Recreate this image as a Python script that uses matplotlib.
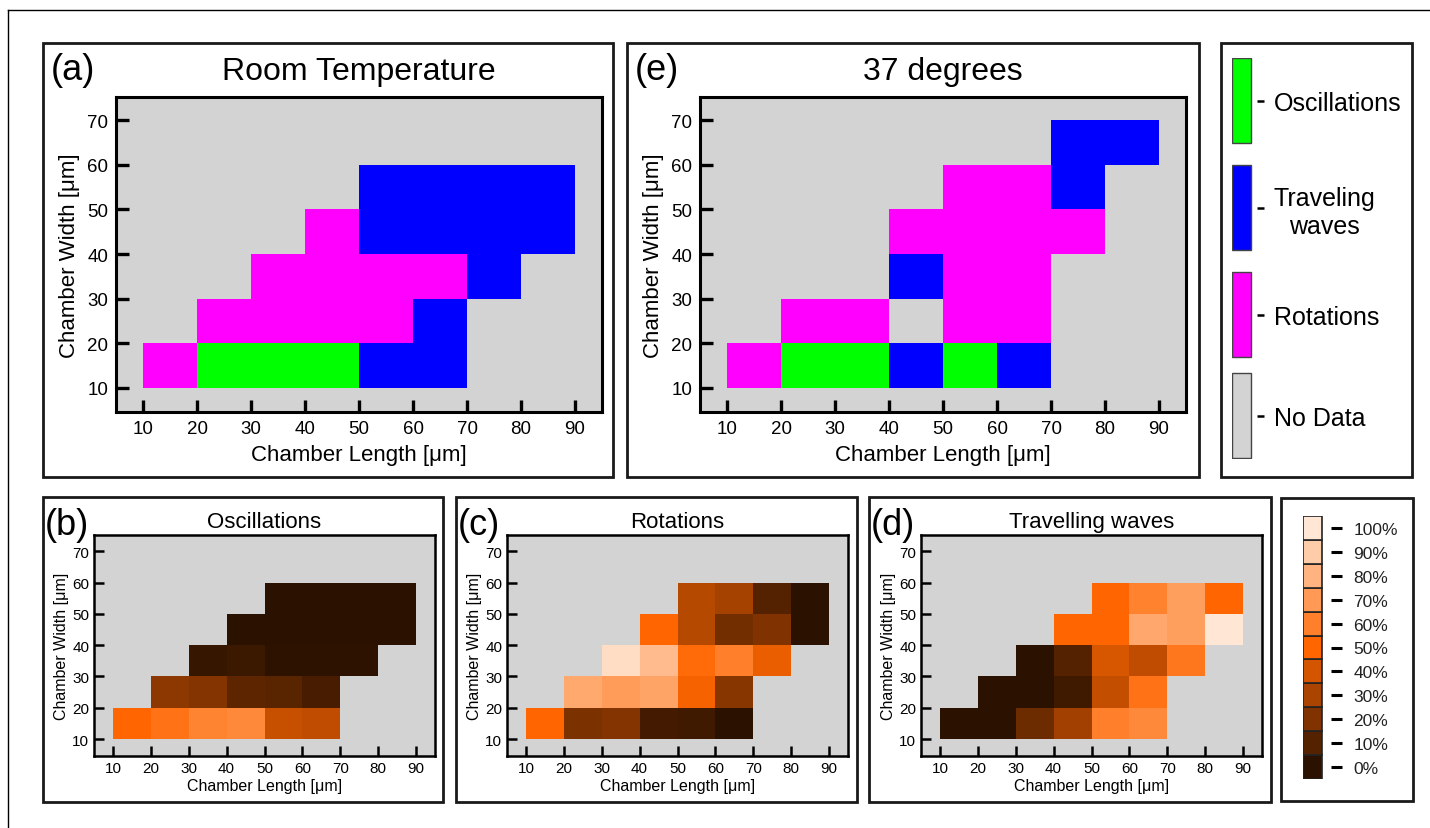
import numpy as np
import matplotlib.pyplot as plt
from matplotlib.colors import ListedColormap, LinearSegmentedColormap
from matplotlib.patches import Rectangle
from matplotlib.lines import Line2D

plt.rcParams['font.family'] = ['Liberation Sans', 'DejaVu Sans']

W, H = 1430, 829          # figure size in pixels

# ---------- data ----------
length_edges = np.arange(10, 100, 10)   # chamber length, cell edges [um]
width_edges = np.arange(10, 80, 10)     # chamber width, cell edges [um]

# dominant state per cell, rows = width 10,20,...,60 ; cols = length 10..80
# O = oscillations, T = traveling waves, R = rotations, . = no data
room_temp = ["ROOOTT..",
             ".RRRRT..",
             "..RRRRT.",
             "...RTTTT",
             "....TTTT",
             "........"]
deg37 = ["ROOTOT..",
         ".RR.RR..",
         "...TRR..",
         "...RRRR.",
         "....RRT.",
         "......TT"]

nan = np.nan
# fraction of each state [%] at room temperature
osc = [[50, 55, 62, 64, 37, 35, nan, nan],
       [nan, 23, 21, 12, 11, 7, nan, nan],
       [nan, nan, 3, 4, 1, 1, 1, nan],
       [nan, nan, nan, 0, 0, 0, 0, 0],
       [nan, nan, nan, nan, 0, 0, 0, 0],
       [nan] * 8]
rot = [[50, 19, 21, 6, 5, 0, nan, nan],
       [nan, 76, 71, 74, 48, 22, nan, nan],
       [nan, nan, 96, 83, 52, 60, 45, nan],
       [nan, nan, nan, 50, 33, 17, 20, 0],
       [nan, nan, nan, nan, 33, 29, 10, 0],
       [nan] * 8]
trav = [[0, 0, 16, 28, 60, 64, nan, nan],
        [nan, 0, 0, 5, 36, 55, nan, nan],
        [nan, nan, 0, 10, 41, 35, 57, nan],
        [nan, nan, nan, 50, 50, 75, 72, 100],
        [nan, nan, nan, nan, 50, 61, 72, 50],
        [nan] * 8]

state_codes = "OTR"
state_colors = ['#00ff00', '#0000ff', '#ff00ff', '#d3d3d3']
state_names = ['Oscillations', 'Traveling\nwaves', 'Rotations', 'No Data']

pct_colors = ['#2b1100', '#552200', '#803300', '#aa4400', '#d45500', '#ff6600',
              '#ff7f2a', '#ff9955', '#ffb380', '#ffccaa', '#ffe6d5']
pct_labels = [f'{p}%' for p in range(0, 101, 10)]

GRAY = '#d3d3d3'
state_cmap = ListedColormap(state_colors[:3])
pct_cmap = LinearSegmentedColormap.from_list('pct', pct_colors)


def rect(l, t, r, b):
    """pixel box -> figure fraction [left, bottom, width, height]"""
    return [l / W, 1 - b / H, (r - l) / W, (b - t) / H]


def frame(fig, l, t, r, b):
    fig.add_artist(Rectangle((l / W, 1 - b / H), (r - l) / W, (b - t) / H,
                             transform=fig.transFigure, fill=False,
                             ec='#1a1a1a', lw=2))


def style(ax, big):
    ax.set_facecolor(GRAY)
    ax.set_xlim(5, 95)
    ax.set_ylim(4.6, 75.2)
    ax.set_xticks(range(10, 100, 10))
    ax.set_yticks(range(10, 80, 10))
    if big:
        ax.tick_params(direction='in', length=9, width=2.4, labelsize=13.5,
                       pad=5.5)
        lab, lw, lp = 16, 2.2, 5
    else:
        ax.tick_params(direction='in', length=7, width=1.8, labelsize=11,
                       pad=3.5)
        lab, lw, lp = 11.5, 1.8, 2
    for s in ax.spines.values():
        s.set_linewidth(lw)
    ax.set_xlabel('Chamber Length [μm]', fontsize=lab, labelpad=lp)
    ax.set_ylabel('Chamber Width [μm]', fontsize=lab, labelpad=lp)


def state_grid(rows):
    arr = np.array([[state_codes.index(c) if c != '.' else nan for c in r]
                    for r in rows], dtype=float)
    return np.ma.masked_invalid(arr)


fig = plt.figure(figsize=(W / 100, H / 100), dpi=100)

# outer border (top and left visible)
fig.add_artist(Line2D([8 / W, 1], [1 - 11 / H] * 2, transform=fig.transFigure,
                      color='k', lw=1))
fig.add_artist(Line2D([8 / W] * 2, [0, 1 - 11 / H], transform=fig.transFigure,
                      color='k', lw=1))

# ---------- big state maps ----------
big = [(room_temp, '(a)', 'Room Temperature', (43, 44, 613, 478),
        (116, 98, 602, 413)),
       (deg37, '(e)', '37 degrees', (627, 44, 1199, 478),
        (700, 98, 1186, 413))]
for rows, tag, title, fr, ar in big:
    frame(fig, *fr)
    ax = fig.add_axes(rect(*ar))
    ax.pcolormesh(length_edges, width_edges, state_grid(rows), cmap=state_cmap,
                  vmin=-0.5, vmax=2.5)
    style(ax, True)
    fig.text((fr[0] + 8) / W, 1 - 80 / H, tag, fontsize=26, va='baseline')
    fig.text((ar[0] + ar[2]) / 2 / W, 1 - 80 / H, title, fontsize=23,
             ha='center', va='baseline')

# ---------- state legend ----------
frame(fig, 1221, 44, 1412, 478)
lax = fig.add_axes(rect(1232, 59, 1257, 460))
lax.set_xlim(0, 25)
lax.set_ylim(401, 0)
tops = [0, 107, 214, 315]
for top, c in zip(tops, state_colors):
    lax.add_patch(Rectangle((0, top), 19, 85, fc=c, ec='#444', lw=1))
lax.set_xticks([])
lax.set_yticks([t + 42.5 for t in tops])
lax.set_yticklabels(state_names, fontsize=18)
lax.yaxis.tick_right()
lax.tick_params(axis='y', direction='out', length=5, width=1.8, pad=7)
for lbl in lax.get_yticklabels():
    lbl.set_multialignment('center')
for s in lax.spines.values():
    s.set_visible(False)

# ---------- fraction maps ----------
small = [(osc, '(b)', 'Oscillations', (43, 498, 443, 803), (94, 536, 435, 757)),
         (rot, '(c)', 'Rotations', (456, 498, 857, 803), (507, 536, 848, 757)),
         (trav, '(d)', 'Travelling waves', (869, 498, 1271, 803),
          (921, 536, 1262, 757))]
for vals, tag, title, fr, ar in small:
    frame(fig, *fr)
    ax = fig.add_axes(rect(*ar))
    ax.pcolormesh(length_edges, width_edges, np.ma.masked_invalid(vals),
                  cmap=pct_cmap, vmin=0, vmax=100)
    style(ax, False)
    fig.text((fr[0] + 2) / W, 1 - 535 / H, tag, fontsize=26, va='baseline')
    fig.text((ar[0] + ar[2]) / 2 / W, 1 - 528 / H, title, fontsize=16,
             ha='center', va='baseline')

# ---------- percent legend ----------
frame(fig, 1281, 499, 1413, 802)
cax = fig.add_axes(rect(1303, 517, 1331, 780))
cax.set_xlim(0, 28 / 19)
cax.set_ylim(0, 11)
for i, c in enumerate(pct_colors):
    cax.add_patch(Rectangle((0, i), 1, 1, fc=c, ec='#222', lw=1.2))
cax.set_xticks([])
cax.set_yticks(np.arange(11) + 0.5)
cax.set_yticklabels(pct_labels, fontsize=12.5, color='#222')
cax.yaxis.tick_right()
cax.tick_params(axis='y', direction='out', length=8, width=2.2, pad=8)
for s in cax.spines.values():
    s.set_visible(False)

fig.savefig('out.png', dpi=100)
